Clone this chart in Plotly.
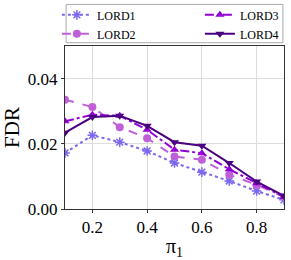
import plotly.graph_objects as go

pi1 = [0.1, 0.2, 0.3, 0.4, 0.5, 0.6, 0.7, 0.8, 0.9]
lord1 = [0.0172, 0.0226, 0.0205, 0.0178, 0.0141, 0.0113, 0.0086, 0.0055, 0.0028]
lord2 = [0.0335, 0.0313, 0.0251, 0.0217, 0.0161, 0.0151, 0.0105, 0.0074, 0.0037]
lord3 = [0.0269, 0.0289, 0.0286, 0.0243, 0.0182, 0.0171, 0.0122, 0.0079, 0.0037]
lord4 = [0.0234, 0.0282, 0.0286, 0.0255, 0.0205, 0.0194, 0.0141, 0.0084, 0.0040]

names = ["LORD1", "LORD2", "LORD3", "LORD4"]
series = [lord1, lord2, lord3, lord4]
colors = ["#7b68ee", "#c060d8", "#9400d3", "#4b0082"]
dashes = ["dot", "dash", "dashdot", "solid"]
symbols = ["asterisk-open", "circle", "triangle-up", "triangle-down"]
legends = ["legend", "legend", "legend2", "legend2"]

fig = go.Figure()
for n, s, c, d, sym, lg in zip(names, series, colors, dashes, symbols, legends):
    fig.add_trace(go.Scatter(
        x=pi1, y=s, name=n, mode="lines+markers",
        line=dict(color=c, dash=d, width=2),
        marker=dict(symbol=sym, size=8, color=c, line=dict(color=c, width=1.5 if sym == "asterisk-open" else 0)),
        legend=lg,
    ))

font = "Liberation Serif"
leg_common = dict(
    orientation="v", yanchor="top", xanchor="left",
    font=dict(family=font, size=12),
    bgcolor="rgba(255,255,255,0)", borderwidth=0, tracegroupgap=0, itemwidth=30,
)
box = dict(color="#aaaaaa", width=1)
fig.update_layout(
    width=291, height=260,
    margin=dict(l=65, r=7, t=46, b=51, autoexpand=False),
    paper_bgcolor="white", plot_bgcolor="white",
    font=dict(family=font, color="black", size=15),
    showlegend=True,
    legend=dict(x=-0.037, y=1.28, **leg_common),
    legend2=dict(x=0.616, y=1.28, **leg_common),
    shapes=[
        dict(type="line", xref="paper", yref="paper", x0=0.005, x1=0.995, y0=1.255, y1=1.255, line=box, layer="above"),
        dict(type="line", xref="paper", yref="paper", x0=0.005, x1=0.995, y0=1.02, y1=1.02, line=box, layer="above"),
        dict(type="line", xref="paper", yref="paper", x0=0.005, x1=0.005, y0=1.02, y1=1.255, line=box, layer="above"),
        dict(type="line", xref="paper", yref="paper", x0=0.995, x1=0.995, y0=1.02, y1=1.255, line=box, layer="above"),
    ],
    xaxis=dict(
        range=[0.1, 0.9], tickvals=[0.2, 0.4, 0.6, 0.8], ticktext=["0.2", "0.4", "0.6", "0.8"],
        showgrid=True, gridcolor="#dddddd", gridwidth=1,
        showline=True, linecolor="#333333", linewidth=1, mirror=True,
        ticks="outside", ticklen=3, tickcolor="#333333", zeroline=False,
        title=dict(text="π<sub>1</sub>", font=dict(family=font, size=20), standoff=2),
        tickfont=dict(family=font, size=17),
    ),
    yaxis=dict(
        range=[0, 0.05], tickvals=[0.0, 0.02, 0.04], ticktext=["0.00", "0.02", "0.04"],
        showgrid=True, gridcolor="#dddddd", gridwidth=1,
        showline=True, linecolor="#333333", linewidth=1, mirror=True,
        ticks="outside", ticklen=3, tickcolor="#333333", zeroline=False,
        title=dict(text="FDR", font=dict(family=font, size=21), standoff=6),
        tickfont=dict(family=font, size=17),
    ),
)

fig.write_html("out.html", config={"displayModeBar": False},
               post_script="document.body.style.margin='0';document.body.style.padding='0';")
